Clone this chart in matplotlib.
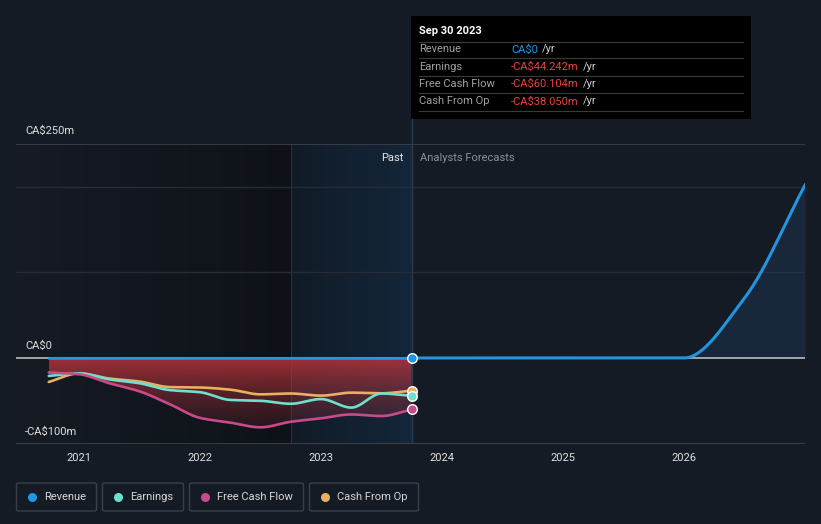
import numpy as np
import matplotlib
matplotlib.use("Agg")
import matplotlib.pyplot as plt
from matplotlib.patches import FancyBboxPatch, Rectangle
from matplotlib.colors import to_rgb

plt.rcParams['font.family'] = ['Roboto', 'DejaVu Sans']

# ---------------- data ----------------
past_t = [2020.75, 2021.0, 2021.25, 2021.5, 2021.75, 2022.0, 2022.25, 2022.5,
          2022.75, 2023.0, 2023.25, 2023.5, 2023.75]
revenue_past = [0, 0, 0, 0, 0, 0, 0, 0, 0, 0, 0, 0, 0]
earnings = [-21, -18, -25, -29.5, -37.5, -40, -49, -50, -53.5, -48, -58, -41.5, -44.242]
fcf = [-17, -19, -29.5, -39, -54, -70, -75.5, -81, -74.5, -70.5, -66, -67.8, -60.104]
cfo = [-28, -18, -24, -27.5, -34, -34.5, -37, -42.5, -41.5, -44, -40.5, -41.3, -38.050]

fc_t = [2023.75, 2024.75, 2026.0, 2026.5, 2027.0]
revenue_fc = [0, 0, 0, 70, 202]

y_ticks = [0, 250, -100]
y_labels = ["CA$0", "CA$250m", "-CA$100m"]
x_ticks = [2021, 2022, 2023, 2024, 2025, 2026]
x_labels = ["2021", "2022", "2023", "2024", "2025", "2026"]

legend_names = ["Revenue", "Earnings", "Free Cash Flow", "Cash From Op"]
tooltip_date = "Sep 30 2023"
tooltip_labels = ["Revenue", "Earnings", "Free Cash Flow", "Cash From Op"]
tooltip_values = ["CA$0", "-CA$44.242m", "-CA$60.104m", "-CA$38.050m"]

# ---------------- style ----------------
C_REV = "#2394df"
C_EARN = "#6de0d0"
C_FCF = "#c84a8a"
C_CFO = "#e8b060"
BG = "#151b24"
W, H = 821, 524


def pchip(x, y, n=400):
    x = np.asarray(x, float); y = np.asarray(y, float)
    h = np.diff(x); d = np.diff(y) / h
    m = np.zeros_like(y)
    for k in range(1, len(x) - 1):
        if d[k - 1] * d[k] > 0:
            w1 = 2 * h[k] + h[k - 1]; w2 = h[k] + 2 * h[k - 1]
            m[k] = (w1 + w2) / (w1 / d[k - 1] + w2 / d[k])
    m[0] = d[0]; m[-1] = d[-1]
    xs = np.linspace(x[0], x[-1], n)
    idx = np.clip(np.searchsorted(x, xs) - 1, 0, len(x) - 2)
    t = (xs - x[idx]) / h[idx]
    h00 = 2 * t**3 - 3 * t**2 + 1; h10 = t**3 - 2 * t**2 + t
    h01 = -2 * t**3 + 3 * t**2; h11 = t**3 - t**2
    ys = h00 * y[idx] + h10 * h[idx] * m[idx] + h01 * y[idx + 1] + h11 * h[idx] * m[idx + 1]
    return xs, ys


def P(x, y):
    return (x / W, 1 - y / H)


fig = plt.figure(figsize=(W / 100, H / 100), dpi=100, facecolor=BG)
ax = fig.add_axes([16 / W, (H - 444) / H, 789 / W, 300 / H])
ax.set_facecolor(BG)
x0, x1 = 2020.4793, 2027.0
y0, y1 = -100.5, 250
ax.set_xlim(x0, x1)
ax.set_ylim(y0, y1)
for s in ax.spines.values():
    s.set_visible(False)
ax.set_xticks([]); ax.set_yticks([])

# past region background gradients
t_hl = 2022.75
t_now = past_t[-1]
g1 = np.zeros((2, 256, 3))
c_a, c_b = np.array(to_rgb("#161b24")), np.array(to_rgb("#0e1218"))
for i, f in enumerate(np.linspace(0, 1, 256)):
    g1[:, i] = c_a * (1 - f) + c_b * f
ax.imshow(g1, extent=[x0, t_hl, y0, y1], aspect='auto', zorder=0, origin='lower')
g2 = np.zeros((2, 256, 3))
c_a, c_b = np.array(to_rgb("#111b26")), np.array(to_rgb("#14263a"))
for i, f in enumerate(np.linspace(0, 1, 256)):
    g2[:, i] = c_a * (1 - f) + c_b * f
ax.imshow(g2, extent=[t_hl, t_now, y0, y1], aspect='auto', zorder=0, origin='lower')
ax.axvline(t_hl, color="#1e3344", lw=0.8, zorder=1)
ax.set_xlim(x0, x1); ax.set_ylim(y0, y1)

# grid
for g in [100, 200]:
    ax.axhline(g, color="#252c36", lw=1, zorder=1)
ax.axhline(250, color="#3c424b", lw=1.2, zorder=1)
ax.axhline(y0 + 0.3, color="#40464f", lw=1.2, zorder=1)

# red gradient fill
xs_f, ys_f = pchip(past_t, fcf)
poly = ax.fill_between(xs_f, 0, ys_f, color='none', lw=0, zorder=2)
grad = np.zeros((256, 2, 4))
red = np.array(to_rgb("#c0343c"))
for i, f in enumerate(np.linspace(0, 1, 256)):  # f=0 bottom, 1 top
    grad[i, :, :3] = red
    grad[i, :, 3] = 0.08 + 0.74 * f**1.6
im = ax.imshow(grad, extent=[past_t[0], t_now, -100, 0], aspect='auto',
               origin='lower', zorder=2)
im.set_clip_path(poly.get_paths()[0], transform=ax.transData)
ax.set_xlim(x0, x1); ax.set_ylim(y0, y1)

# forecast revenue fill
xr, yr = pchip(fc_t, revenue_fc)
ax.fill_between(xr, 0, yr, color="#1d3a55", alpha=0.45, lw=0, zorder=2)

# zero line
ax.axhline(0, color="#c8c8c8", lw=1.1, zorder=3)

# lines
lw = 1.9
for vals, c in [(cfo, C_CFO), (earnings, C_EARN), (fcf, C_FCF)]:
    xs, ys = pchip(past_t, vals)
    ax.plot(xs, ys, color=c, lw=lw, zorder=4, solid_capstyle='round')
ax.plot(past_t, revenue_past, color=C_REV, lw=lw, zorder=5)
ax.plot(xr, yr, color=C_REV, lw=lw + 0.3, zorder=5)

# vertical now line
ax.axvline(t_now, color="#2a3b4c", lw=1, zorder=3)

# end markers
for v, c in [(revenue_past[-1], C_REV), (cfo[-1], C_CFO), (earnings[-1], C_EARN), (fcf[-1], C_FCF)]:
    ax.scatter([t_now], [v], s=48, color=c, edgecolor='white', linewidth=1.0, zorder=6)

# Past / Analysts Forecasts labels
ax.text(t_now - 0.065, 234, "Past", color="#e6e6e6", fontsize=8, ha='right', va='center', zorder=7)
ax.text(t_now + 0.065, 234, "Analysts Forecasts", color="#8a9099", fontsize=8, ha='left', va='center', zorder=7)

# y labels
ylab_pos = {0: 346, 250: 131, -100: 432}
for v, lab in zip(y_ticks, y_labels):
    fig.text(*P(25, ylab_pos[v]), lab, color="#e0e0e0", fontsize=8, ha='left', va='center')

# x tick labels
for xt, lab in zip(x_ticks, x_labels):
    xp = 16 + (xt - x0) / (x1 - x0) * 789
    fig.text(*P(xp, 458), lab, color="#e0e0e0", fontsize=8, ha='center', va='center')

# vertical now line continues up to tooltip
fig.add_artist(plt.Line2D([411.5 / W, 411.5 / W], [1 - 119 / H, 1 - 144 / H], color="#2a3b4c", lw=1))

# tooltip
fig.add_artist(Rectangle(P(411, 119), 340 / W, 103 / H, facecolor="black", edgecolor='none'))
fig.text(*P(419, 31), tooltip_date, color="white", fontsize=8, fontweight='bold', ha='left', va='center')
for ys_ in [41.7, 58.3, 76, 93.3, 111]:
    fig.add_artist(plt.Line2D([419 / W, 743 / W], [1 - ys_ / H] * 2, color="#3a3a3a", lw=0.8))
row_y = [49.5, 66.5, 84, 101.5]
vcolors = [C_REV, "#e8413f", "#e8413f", "#e8413f"]
fig.canvas.draw()
rend = fig.canvas.get_renderer()
for ry, lab, val, vc in zip(row_y, tooltip_labels, tooltip_values, vcolors):
    fig.text(*P(419, ry), lab, color="#a0a0a0", fontsize=8, ha='left', va='center')
    t = fig.text(*P(511, ry), val, color=vc, fontsize=8, ha='left', va='center')
    bb = t.get_window_extent(renderer=rend)
    fig.text((bb.x1 + 4) / W, 1 - ry / H, "/yr", color="#d0d0d0", fontsize=8, ha='left', va='center')

# legend
boxes = [(16, 97), (102, 184), (189, 304), (309, 419)]
lcolors = [C_REV, C_EARN, C_FCF, C_CFO]
for (bx0, bx1), name, c in zip(boxes, legend_names, lcolors):
    fig.add_artist(FancyBboxPatch(P(bx0 + 0.5, 511), (bx1 - bx0 - 1) / W, 28 / H,
                                  boxstyle="round,pad=0,rounding_size=0.003",
                                  facecolor='none', edgecolor="#3a3f48", lw=1))
    fig.add_artist(plt.Line2D([(bx0 + 16) / W], [1 - 497 / H], marker='o', markersize=6.5,
                              color=c, markeredgewidth=0))
    fig.text(*P(bx0 + 28, 497), name, color="#d8d8d8", fontsize=8, ha='left', va='center')

fig.savefig("out.png", dpi=100, facecolor=BG)
